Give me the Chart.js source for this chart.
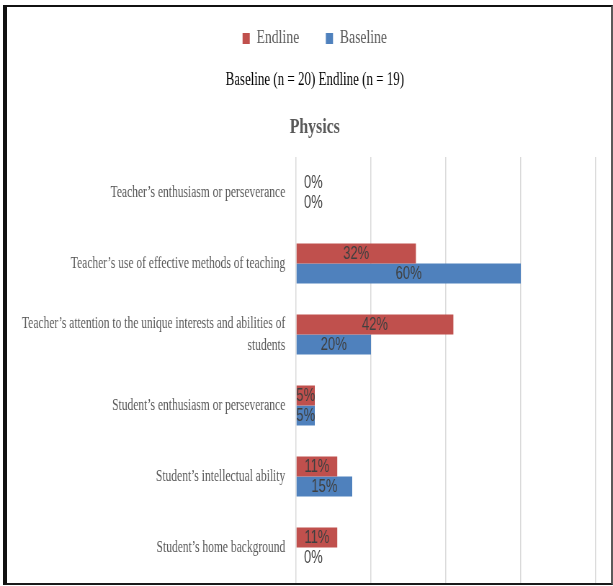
<!DOCTYPE html>
<html>
<head>
<meta charset="utf-8">
<script src="https://cdn.jsdelivr.net/npm/chart.js@4.4.0/dist/chart.umd.min.js"></script>
<style>
  html, body { margin: 0; padding: 0; background: #fff; }
  #wrap { position: relative; width: 613px; height: 586px; overflow: hidden; }
  /* drawn wide, then squeezed horizontally for the narrow type look */
  #chart { position: absolute; left: 0; top: 0; width: 851px; height: 586px;
           transform: scaleX(0.7203); transform-origin: 0 0; }
  #frame { position: absolute; left: 3px; top: 5px; width: 610px; height: 580px;
           box-sizing: border-box; pointer-events: none;
           border-left: 4px solid #111; border-top: 2px solid #111;
           border-bottom: 2px solid #1a1a1a; border-right: 2px solid #5a5a5a; }
</style>
</head>
<body>
<div id="wrap">
  <canvas id="chart" width="851" height="586"></canvas>
  <div id="frame"></div>
</div>
<script>
/* ---------- data ---------- */
const categories = [
    "Teacher’s enthusiasm or perseverance",
    "Teacher’s use of effective methods of teaching",
    ["Teacher’s attention to the unique interests and abilities of", "students"],
    "Student’s enthusiasm or perseverance",
    "Student’s intellectual ability",
    "Student’s home background"
];
const endline = [0, 32, 42, 5, 11, 11];
const baseline = [0, 60, 20, 5, 15, 0];
const xTicks = [0, 20, 40, 60, 80];

const SERIF = '"Liberation Serif", "Times New Roman", serif';
const PAD_LEFT = 47;
const PLOT_LEFT = 411;

/* ---------- percentage labels on the bars ---------- */
const valueLabels = {
    id: "valueLabels",
    afterDatasetsDraw(chart) {
        const ctx = chart.ctx;
        ctx.save();
        ctx.font = '18px "Liberation Sans Narrow", "Arial Narrow", sans-serif';
        ctx.fillStyle = "#404040";
        ctx.textBaseline = "middle";
        chart.data.datasets.forEach((ds, i) => {
            chart.getDatasetMeta(i).data.forEach((bar, j) => {
                const v = ds.data[j];
                const txt = v + "%";
                if (v > 0) {
                    ctx.textAlign = "center";
                    ctx.fillText(txt, (bar.x + bar.base) / 2, bar.y + 1);
                } else {
                    ctx.textAlign = "left";
                    ctx.fillText(txt, bar.base + 11, bar.y + 1);
                }
            });
        });
        ctx.restore();
    }
};

/* long category label runs past the padded edge; let the axis own that space */
const labelRoom = {
    id: "labelRoom",
    afterLayout(chart) {
        chart.scales.y.left = 0;
    }
};

/* ---------- chart ---------- */
new Chart(document.getElementById("chart"), {
    type: "bar",
    data: {
        labels: categories,
        datasets: [
            { label: "Endline", data: endline, backgroundColor: "#C0504D" },
            { label: "Baseline", data: baseline, backgroundColor: "#4F81BD" }
        ]
    },
    options: {
        indexAxis: "y",
        responsive: false,
        animation: false,
        categoryPercentage: 0.5634,
        barPercentage: 1,
        layout: { padding: { top: -8, left: PAD_LEFT, right: 24, bottom: 3 } },
        scales: {
            x: {
                min: 0,
                max: 80,
                afterBuildTicks: (scale) => { scale.ticks = xTicks.map((v) => ({ value: v })); },
                ticks: { display: false },
                grid: { color: "#d9d9d9", lineWidth: 1.5, drawTicks: false },
                border: { display: false }
            },
            y: {
                afterFit: (scale) => {
                    scale.width = PLOT_LEFT - PAD_LEFT;
                    scale.paddingTop = 0;
                    scale.paddingBottom = 0;
                },
                ticks: { color: "#595959", padding: 15, font: { family: SERIF, size: 16, lineHeight: 1.4 } },
                grid: { display: false, drawTicks: false },
                border: { display: false }
            }
        },
        plugins: {
            legend: {
                position: "top",
                weight: 3000,
                maxHeight: 60,
                labels: {
                    boxWidth: 10,
                    boxHeight: 11,
                    padding: 37,
                    color: "#595959",
                    font: { family: SERIF, size: 19 }
                }
            },
            subtitle: {
                display: true,
                weight: 2500,
                text: "Baseline (n = 20) Endline (n = 19)",
                color: "#000",
                font: { family: SERIF, size: 18 },
                padding: { top: 17, bottom: 10 }
            },
            title: {
                display: true,
                text: "Physics",
                color: "#595959",
                font: { family: SERIF, size: 22, weight: "bold" },
                padding: { top: 14, bottom: 16 }
            },
            tooltip: { enabled: false }
        }
    },
    plugins: [valueLabels, labelRoom]
});
</script>
</body>
</html>
